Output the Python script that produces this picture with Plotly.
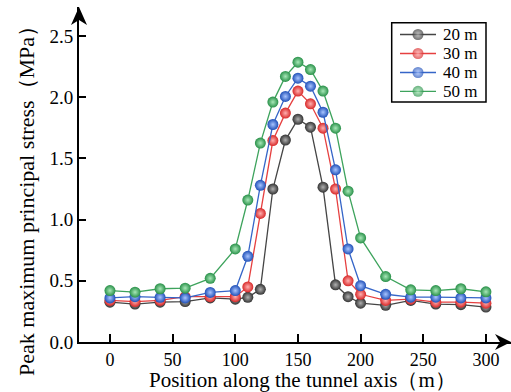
import plotly.graph_objects as go

positions = [0, 20, 40, 60, 80, 100, 110, 120, 130, 140, 150, 160, 170, 180, 190, 200, 220, 240, 260, 280, 300]

stress_20m = [0.325, 0.31, 0.325, 0.33, 0.36, 0.35, 0.365, 0.43, 1.25, 1.65, 1.82, 1.755, 1.265, 0.467, 0.37, 0.317, 0.30, 0.34, 0.31, 0.305, 0.285]
stress_30m = [0.34, 0.33, 0.34, 0.37, 0.37, 0.37, 0.45, 1.05, 1.646, 1.87, 2.05, 1.946, 1.747, 1.25, 0.50, 0.39, 0.34, 0.35, 0.325, 0.325, 0.317]
stress_40m = [0.36, 0.37, 0.365, 0.36, 0.405, 0.42, 0.70, 1.28, 1.777, 2.006, 2.155, 2.09, 1.877, 1.407, 0.76, 0.46, 0.39, 0.366, 0.366, 0.36, 0.36]
stress_50m = [0.42, 0.407, 0.435, 0.44, 0.52, 0.76, 1.16, 1.625, 1.96, 2.17, 2.286, 2.226, 2.05, 1.747, 1.232, 0.85, 0.535, 0.426, 0.42, 0.435, 0.41]

series_names = ["20 m", "30 m", "40 m", "50 m"]
series_values = [stress_20m, stress_30m, stress_40m, stress_50m]
line_colors = ["#454545", "#e64040", "#3565c8", "#3da35c"]
marker_colors = ["#333333", "#d82828", "#2050b8", "#289048"]
highlight_colors = ["#b0b0b0", "#ffb0b0", "#a8c4ff", "#a8e8b8"]

x_ticks = [0, 50, 100, 150, 200, 250, 300]
y_ticks = [0.0, 0.5, 1.0, 1.5, 2.0, 2.5]

x_title = "Position along the tunnel axis（m）"
y_title = "Peak maximum principal stress（MPa）"

FONT = "Liberation Serif, Times New Roman, serif"

W, H = 511, 392
ml, mr, mt, mb = 79, 0, 7, 50
pw, ph = W - ml - mr, H - mt - mb

def paper_x(p):
    return (p - ml) / pw

def paper_y(p):
    return (H - mb - p) / ph

fig = go.Figure()
for name, vals, lc, mc, hc in zip(series_names, series_values, line_colors, marker_colors, highlight_colors):
    fig.add_trace(go.Scatter(
        x=positions, y=vals, name=name, mode="lines+markers", showlegend=False,
        line=dict(color=lc, width=1.3),
        marker=dict(size=11, color=mc, line=dict(width=0),
                    gradient=dict(type="radial", color=hc)),
        cliponaxis=False,
    ))

# Legend drawn on a pixel-unit overlay axis (x2/y2) so it matches the reference box
leg_box = dict(x0=391.7, x1=486, y0=22.7, y1=102)
leg_rows = [34.5, 53.5, 72.5, 91.3]
leg_line_x = (400, 436)
leg_text_x = 441

shapes = [dict(type="rect", xref="x2", yref="y2", x0=leg_box["x0"], x1=leg_box["x1"],
               y0=leg_box["y0"], y1=leg_box["y1"], line=dict(color="black", width=1.5),
               fillcolor="white", layer="below")]
annotations = []
for name, lc, mc, hc, ry in zip(series_names, line_colors, marker_colors, highlight_colors, leg_rows):
    fig.add_trace(go.Scatter(
        x=[leg_line_x[0], (leg_line_x[0] + leg_line_x[1]) / 2, leg_line_x[1]], y=[ry, ry, ry],
        xaxis="x2", yaxis="y2", mode="lines+markers", showlegend=False, hoverinfo="skip",
        line=dict(color=lc, width=1.3),
        marker=dict(size=[0, 11, 0], color=mc, line=dict(width=0),
                    gradient=dict(type="radial", color=hc)),
        cliponaxis=False,
    ))
    annotations.append(dict(xref="x2", yref="y2", x=leg_text_x, y=ry, text=name,
                            xanchor="left", yanchor="middle", showarrow=False,
                            font=dict(family=FONT, size=17, color="black")))

# Axis titles
annotations.append(dict(xref="paper", yref="paper", x=paper_x(302), y=paper_y(393), text=x_title,
                        showarrow=False, xanchor="center", yanchor="bottom", borderpad=0,
                        font=dict(family=FONT, size=21, color="black")))
annotations.append(dict(xref="paper", yref="paper", x=paper_x(27), y=paper_y(196), text=y_title,
                        showarrow=False, textangle=-90, xanchor="center", yanchor="middle",
                        font=dict(family=FONT, size=22, color="black")))

def px(dx):
    return dx / pw

def py(dy):
    return dy / ph

yarrow = (f"M 0,1 L {-px(8)},{1-py(18)} L 0,{1-py(13)} L {px(8)},{1-py(18)} Z")
xarrow = (f"M 1,0 L {1-px(16)},{py(8)} L {1-px(11)},0 L {1-px(16)},{-py(8)} Z")
shapes += [
    dict(type="path", xref="paper", yref="paper", path=yarrow, fillcolor="black", line=dict(width=0)),
    dict(type="path", xref="paper", yref="paper", path=xarrow, fillcolor="black", line=dict(width=0)),
]

fig.update_layout(
    width=W, height=H,
    margin=dict(l=ml, r=mr, t=mt, b=mb),
    paper_bgcolor="white", plot_bgcolor="white",
    font=dict(family=FONT, size=18, color="black"),
    showlegend=False,
    shapes=shapes,
    annotations=annotations,
    xaxis=dict(range=[-24.7, 320], tickvals=x_ticks, ticktext=[str(t) for t in x_ticks],
               showgrid=False, zeroline=False, showline=True, linecolor="black", linewidth=2,
               ticks="inside", ticklen=8, tickwidth=2, tickcolor="black",
               tickfont=dict(family=FONT, size=18)),
    yaxis=dict(range=[0, 2.737], tickvals=y_ticks, ticktext=[f"{t:.1f}" for t in y_ticks],
               showgrid=False, zeroline=False, showline=True, linecolor="black", linewidth=2,
               ticks="inside", ticklen=7, tickwidth=2, tickcolor="black",
               tickfont=dict(family=FONT, size=19)),
    xaxis2=dict(overlaying="x", range=[ml, W - mr], visible=False, fixedrange=True),
    yaxis2=dict(overlaying="y", range=[H - mb, mt], visible=False, fixedrange=True),
)

fig.write_html("out.html")
